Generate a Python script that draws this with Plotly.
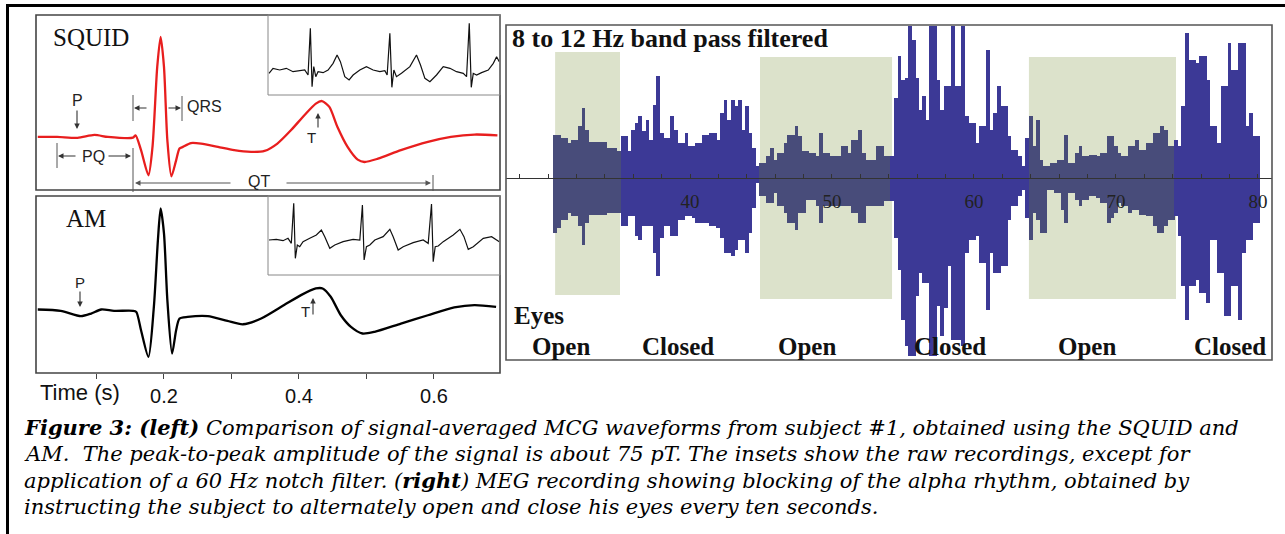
import numpy as np
import plotly.graph_objects as go

W, H = 1285, 534

# ---------------- DATA ----------------
# Signal-averaged MCG, SQUID (time s, amplitude pT)
squid_t = [0.013, 0.042, 0.072, 0.097, 0.117, 0.154, 0.158, 0.166, 0.177, 0.183,
           0.190, 0.195, 0.200, 0.205, 0.211, 0.218, 0.223, 0.228, 0.240, 0.255,
           0.280, 0.304, 0.329, 0.349, 0.368, 0.388, 0.408, 0.425, 0.434, 0.445,
           0.457, 0.472, 0.487, 0.497, 0.517, 0.551, 0.591, 0.625, 0.660, 0.694]
squid_v = [0, 0, -0.5, 1.1, 0, -0.4, 0.9, -7.2, -20.8, -5.4,
           38.0, 54.3, 38.0, -1.8, -21.4, -12.7, -6.3, -5.4, -3.3, -3.6,
           -5.4, -7.2, -8.1, -7.6, -3.6, 3.6, 11.8, 18.1, 19.5, 16.3,
           5.4, -5.4, -12.3, -13.6, -11.8, -7.2, -2.7, 0, 1.3, 0.9]

# Signal-averaged MCG, atomic magnetometer (time s, amplitude pT)
am_t = [0.013, 0.047, 0.077, 0.092, 0.107, 0.126, 0.154, 0.159, 0.166, 0.177,
        0.185, 0.191, 0.195, 0.200, 0.205, 0.212, 0.218, 0.223, 0.235, 0.265,
        0.294, 0.317, 0.344, 0.378, 0.403, 0.425, 0.435, 0.447, 0.462, 0.477,
        0.494, 0.512, 0.551, 0.591, 0.630, 0.660, 0.692]
am_v = [0, -0.7, -3.6, -2.2, 0, -0.7, -0.7, -1.3, -11.2, -25.7,
        1.4, 37.6, 54.8, 41.3, 5.1, -23.9, -11.2, -4.9, -4.0, -3.6,
        -6.2, -8.0, -4.9, 2.4, 7.8, 11.4, 11.4, 6.9, -3.1, -9.4,
        -13.0, -12.1, -7.6, -3.1, 1.1, 2.4, 1.4]

# Raw recordings (insets), time s, amplitude a.u.
squid_raw_t = [0.010, 0.050, 0.117, 0.183, 0.250, 0.317, 0.367, 0.400, 0.423, 0.440,
               0.457, 0.477, 0.500, 0.550, 0.600, 0.650, 0.690, 0.723, 0.767, 0.810,
               0.850, 0.917, 0.983, 1.050, 1.117, 1.167, 1.190, 1.217, 1.237, 1.257,
               1.283, 1.333, 1.417, 1.483, 1.523, 1.567, 1.617, 1.683, 1.750, 1.817,
               1.883, 1.950, 1.983, 2.010, 2.030, 2.050, 2.083, 2.133, 2.200, 2.250,
               2.283, 2.310]
squid_raw_v = [-2, 1, 0, 1, -1, -0.4, 0, -3, 25, -10,
               2, -4, -1, -1.6, 0, 4, 9, 5, -4, -6,
               -3, 0, 2, 0, -1, -0.4, -3, 22, -10.4, 0,
               -4, -2, 2, 9, 3, -5, -7, -3, 2, 1,
               -1, -2, -4, 28, -10.4, -2, -3, -1.6, 0, 4,
               8, 5]
am_raw_t = [0.010, 0.083, 0.150, 0.200, 0.233, 0.257, 0.273, 0.293, 0.317, 0.350,
            0.417, 0.483, 0.533, 0.567, 0.617, 0.667, 0.750, 0.850, 0.917, 0.943,
            0.960, 0.983, 1.017, 1.067, 1.150, 1.217, 1.250, 1.300, 1.350, 1.450,
            1.550, 1.600, 1.633, 1.650, 1.670, 1.700, 1.750, 1.850, 1.917, 1.957,
            2.000, 2.050, 2.150, 2.233, 2.310]
am_raw_v = [0, 0.4, -0.4, 1, -2, 22, -11, -3, -4, -1,
            1, 3, 6, 2, -5, -3, -1, 0.4, 0, 21,
            -12, -4, -3, 0, 2, 6.4, 2, -6, -4, -1.6,
            0, -2, 21.6, -13, -4, -3.6, -1, 3, 6.4, 2,
            -5.6, -4, 1, 2, -1]

# MEG 8-12 Hz band-pass: positive / negative peak envelope every 0.25 s from 30.5 s
meg_t0, meg_dt = 30.5, 0.25
meg_pos = [43, 43, 40, 40, 35, 38, 38, 52, 70, 48, 36, 36, 36, 36, 36, 30,
           30, 30, 27, 42, 42, 27, 48, 55, 62, 47, 58, 38, 73, 102, 45, 40,
           40, 62, 48, 35, 35, 45, 32, 32, 35, 35, 43, 43, 45, 45, 38, 65,
           78, 58, 78, 72, 78, 48, 72, 45, 30, 12, 15, 15, 22, 30, 18, 25,
           25, 35, 43, 43, 52, 42, 27, 27, 25, 25, 22, 45, 25, 25, 22, 22,
           22, 32, 32, 25, 38, 38, 48, 25, 18, 18, 18, 32, 32, 22, 22, 22,
           80, 122, 98, 100, 152, 138, 100, 68, 82, 58, 152, 152, 98, 68, 92, 92,
           152, 92, 92, 152, 62, 55, 55, 35, 52, 52, 128, 48, 65, 92, 72, 72,
           42, 28, 28, 22, 12, 40, 62, 32, 58, 18, 12, 12, 15, 15, 18, 18,
           43, 15, 15, 25, 32, 22, 22, 23, 23, 22, 25, 25, 42, 42, 32, 25,
           22, 22, 32, 32, 38, 28, 28, 35, 35, 45, 45, 52, 48, 32, 32, 38,
           32, 72, 145, 118, 118, 115, 122, 122, 98, 52, 52, 35, 92, 92, 135, 108,
           108, 135, 135, 52, 65, 42, 42]
meg_neg = [55, 50, 42, 42, 35, 38, 38, 48, 67, 45, 37, 37, 37, 37, 37, 35,
           35, 35, 35, 48, 48, 38, 38, 58, 62, 48, 48, 48, 75, 98, 60, 48,
           48, 58, 58, 42, 42, 38, 38, 40, 45, 45, 45, 45, 48, 48, 50, 60,
           75, 75, 78, 72, 62, 62, 75, 55, 30, 5, 18, 18, 25, 25, 15, 28,
           28, 35, 45, 45, 52, 35, 35, 22, 22, 22, 28, 45, 28, 28, 28, 28,
           28, 28, 28, 28, 35, 35, 45, 45, 28, 28, 28, 28, 28, 23, 23, 23,
           60, 92, 142, 168, 178, 178, 118, 95, 105, 105, 178, 178, 128, 158, 130, 88,
           162, 162, 162, 168, 75, 62, 62, 58, 85, 85, 132, 75, 95, 95, 88, 88,
           42, 28, 28, 18, 12, 40, 62, 35, 42, 55, 55, 12, 12, 15, 15, 32,
           45, 15, 15, 22, 28, 22, 22, 18, 18, 20, 25, 25, 45, 40, 35, 25,
           28, 28, 35, 32, 32, 37, 37, 38, 38, 48, 55, 55, 48, 42, 42, 38,
           58, 108, 142, 108, 108, 102, 115, 115, 125, 62, 62, 95, 95, 138, 138, 108,
           108, 142, 75, 62, 62, 45, 45]
eyes_open_intervals = [(30.5, 35.07), (44.93, 54.23), (63.87, 74.23)]
eye_states = ["Open", "Closed", "Open", "Closed", "Open", "Closed"]
meg_tickvals = [40, 50, 60, 70, 80]
time_tickvals = [0.1, 0.2, 0.3, 0.4, 0.5, 0.6]
time_ticktext = ["", "0.2", "", "0.4", "", "0.6"]

# ---------------- LAYOUT HELPERS ----------------
def px(x):
    return x / W

def py(y):
    return 1 - y / H

meg_t = [meg_t0 + meg_dt * i for i in range(len(meg_pos))]
BLUE = "rgb(60,57,150)"
SHADED_BLUE = "rgb(72,76,122)"
GREEN = "rgb(220,226,203)"
meg_colors = [SHADED_BLUE if any(a <= t <= b for a, b in eyes_open_intervals) else BLUE
              for t in meg_t]

fig = go.Figure()
fig.add_trace(go.Scatter(x=squid_t, y=squid_v, mode="lines", xaxis="x", yaxis="y",
                         line=dict(color="rgb(232,30,30)", width=2.3, shape="spline", smoothing=0.7),
                         hoverinfo="skip"))
fig.add_trace(go.Scatter(x=am_t, y=am_v, mode="lines", xaxis="x2", yaxis="y2",
                         line=dict(color="black", width=2.3, shape="spline", smoothing=0.7),
                         hoverinfo="skip"))
fig.add_trace(go.Bar(x=meg_t, y=[p + n for p, n in zip(meg_pos, meg_neg)],
                     base=[-n for n in meg_neg], width=meg_dt * 1.08,
                     marker=dict(color=meg_colors, line=dict(width=0)),
                     xaxis="x3", yaxis="y3", hoverinfo="skip"))
fig.add_trace(go.Scatter(x=squid_raw_t, y=squid_raw_v, mode="lines", xaxis="x4", yaxis="y4",
                         line=dict(color="#111", width=1.2), hoverinfo="skip"))
fig.add_trace(go.Scatter(x=am_raw_t, y=am_raw_v, mode="lines", xaxis="x5", yaxis="y5",
                         line=dict(color="#111", width=1.2), hoverinfo="skip"))

hidden = dict(visible=False, fixedrange=True)
LX = [px(36), px(500)]
fig.update_layout(
    width=W, height=H, margin=dict(l=0, r=0, t=0, b=0, pad=0),
    paper_bgcolor="white", plot_bgcolor="rgba(0,0,0,0)", showlegend=False,
    barmode="overlay", bargap=0,
    xaxis=dict(domain=LX, range=[0.0104, 0.6978], anchor="y", **hidden),
    yaxis=dict(domain=[py(190), py(15)], range=[-28.8, 66.2], anchor="x", **hidden),
    xaxis2=dict(domain=LX, range=[0.0104, 0.6978], anchor="y2", showgrid=False, zeroline=False,
                showline=False, ticks="outside", ticklen=5, tickcolor="#444",
                tickvals=time_tickvals, ticktext=time_ticktext,
                tickfont=dict(family="Liberation Sans, Arial", size=20, color="#111"), fixedrange=True),
    yaxis2=dict(domain=[py(373), py(196)], range=[-34.4, 61.5], anchor="x2", **hidden),
    xaxis3=dict(domain=[px(506), px(1272)], range=[27.04, 80.99], anchor="free", position=py(178),
                showgrid=False, zeroline=False, showline=True, linecolor="#333", linewidth=1,
                ticks="inside", ticklen=4, tickcolor="#333", tickvals=meg_tickvals,
                minor=dict(ticks="inside", dtick=2, tick0=0, ticklen=4, tickcolor="#333", showgrid=False),
                ticklabelstandoff=6,
                tickfont=dict(family="Liberation Serif, Times New Roman", size=19, color="#222"),
                fixedrange=True),
    yaxis3=dict(domain=[py(360), py(25)], range=[-182, 153], anchor="x3", **hidden),
    xaxis4=dict(domain=[px(268), px(500)], range=[0, 2.317], anchor="y4", **hidden),
    yaxis4=dict(domain=[py(95), py(15)], range=[-15, 33], anchor="x4", **hidden),
    xaxis5=dict(domain=[px(268), px(500)], range=[0, 2.317], anchor="y5", **hidden),
    yaxis5=dict(domain=[py(275), py(196)], range=[-21, 26.4], anchor="x5", **hidden),
)

shapes = []
# eyes-open shading
shade_y = [(-117, 126), (-121, 121), (-121, 121)]
for (a, b), (y0, y1) in zip(eyes_open_intervals, shade_y):
    shapes.append(dict(type="rect", xref="x3", yref="y3", x0=a, x1=b, y0=y0, y1=y1,
                       fillcolor=GREEN, line=dict(width=0), layer="below"))

def rect(x0, y0, x1, y1, color, w):
    shapes.append(dict(type="rect", xref="paper", yref="paper", x0=px(x0), x1=px(x1),
                       y0=py(y1), y1=py(y0), line=dict(color=color, width=w)))

def seg(x0, y0, x1, y1, color="#333", w=1.2):
    shapes.append(dict(type="line", xref="paper", yref="paper", x0=px(x0), x1=px(x1),
                       y0=py(y0), y1=py(y1), line=dict(color=color, width=w)))

rect(36, 15, 500, 190, "#444", 1.6)
rect(36, 196, 500, 373, "#444", 1.6)
rect(268, 15, 500, 95, "#888", 1)
rect(268, 196, 500, 275, "#888", 1)
rect(506, 25, 1272, 360, "#555", 1.6)
# outer figure frame
seg(7, 5.5, 1285, 5.5, "black", 3)
seg(7.5, 4, 7.5, 534, "black", 3)
# SQUID annotation bars
seg(133, 95, 133, 121, "#555", 1)
seg(182, 96, 182, 121, "#555", 1)
seg(57, 143, 57, 168, "#555", 1)
seg(133, 148, 133, 192, "#555", 1)
seg(433, 175, 433, 191, "#555", 1)
fig.update_layout(shapes=shapes)

ann = []

def txt(x, y, s, size, family="Liberation Sans, Arial", color="#222", xanchor="center"):
    ann.append(dict(x=px(x), y=py(y), xref="paper", yref="paper", text=s, showarrow=False,
                    xanchor=xanchor, yanchor="middle", font=dict(family=family, size=size, color=color)))

def arrow(x0, y0, x1, y1, color="#333", w=1.1):
    ann.append(dict(x=px(x1), y=py(y1), xref="paper", yref="paper", axref="pixel", ayref="pixel",
                    ax=x0 - x1, ay=y0 - y1, text="", showarrow=True, arrowhead=2, arrowsize=1,
                    arrowwidth=w, arrowcolor=color, standoff=0, startstandoff=0))

SERIF = "Liberation Serif, Times New Roman"
txt(91, 37, "SQUID", 25, SERIF, "#111")
txt(86, 218, "AM", 25, SERIF, "#111")
txt(77, 100, "P", 16)
arrow(77, 109, 77, 129)
txt(205, 107, "QRS", 16)
arrow(148, 108, 134, 108)
arrow(167, 108, 181, 108)
txt(93, 156, "PQ", 16)
arrow(77, 156, 58, 156)
arrow(107, 156, 131, 156)
txt(259, 182, "QT", 16)
arrow(232, 183, 135, 183, "#555")
arrow(285, 183, 431, 183, "#555")
txt(311, 138, "T", 15)
arrow(318, 129, 318, 113)
txt(80, 282, "P", 15)
arrow(80, 290, 80, 307)
txt(305, 311, "T", 15)
arrow(313, 316, 313, 298)
txt(38, 392, "Time (s)", 22, color="#111", xanchor="left")

# right panel text
txt(510, 39, "<b>8 to 12 Hz band pass filtered</b>", 26, SERIF, "#111", xanchor="left")
txt(512, 315, "<b>Eyes</b>", 25, SERIF, "#111", xanchor="left")
state_x = [561, 678, 807, 950, 1087, 1230]
for s, x in zip(eye_states, state_x):
    txt(x, 346, "<b>" + s + "</b>", 25, SERIF, "#111")

# caption
cap = [
    "<b><i>Figure 3: (left)</i></b><i> Comparison of signal-averaged MCG waveforms from subject #1, obtained using the SQUID and</i>",
    "<i>AM.  The peak-to-peak amplitude of the signal is about 75 pT. The insets show the raw recordings, except for</i>",
    "<i>application of a 60 Hz notch filter. (</i><b><i>right</i></b><i>) MEG recording showing blocking of the alpha rhythm, obtained by</i>",
    "<i>instructing the subject to alternately open and close his eyes every ten seconds.</i>",
]
for i, line in enumerate(cap):
    txt(22, 427 + 26.7 * i, line, 21, "DejaVu Serif", "black", xanchor="left")

fig.update_layout(annotations=ann)
fig.write_html("out.html")
